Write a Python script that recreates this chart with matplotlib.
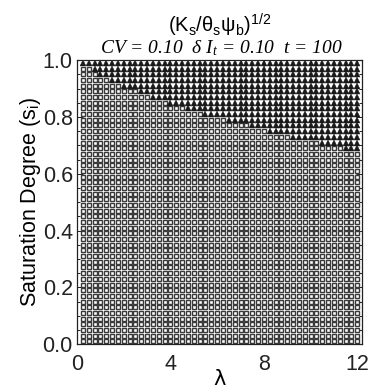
import numpy as np
import matplotlib
matplotlib.use("Agg")
import matplotlib.pyplot as plt
from matplotlib.ticker import MultipleLocator, FormatStrFormatter

# grid of simulated cases: lambda (x) and initial saturation degree (y)
lam = [0.25 * k for k in range(1, 49)]
sat = [0.01 + 0.02 * j for j in range(50)]

# highest saturation that still gives an open square, per lambda column
s_top_square = [
    0.97, 0.97, 0.95, 0.93, 0.93, 0.91, 0.91, 0.89, 0.89, 0.89,
    0.87, 0.87, 0.85, 0.85, 0.85, 0.83, 0.83, 0.83, 0.81, 0.81,
    0.81, 0.79, 0.79, 0.79, 0.79, 0.77, 0.77, 0.77, 0.77, 0.75,
    0.75, 0.75, 0.73, 0.73, 0.73, 0.73, 0.71, 0.71, 0.71, 0.71,
    0.71, 0.69, 0.69, 0.69, 0.69, 0.67, 0.67, 0.67,
]

title_top = r"$\mathregular{(K_s/\theta_s\psi_b)^{1/2}}$"
title_sub = r"CV = 0.10  δ I$\mathregular{_t}$ = 0.10  t = 100"

plt.rcParams["font.family"] = ["Liberation Sans", "DejaVu Sans"]

sq_x, sq_y, tr_x, tr_y = [], [], [], []
for x, thr in zip(lam, s_top_square):
    for y in sat:
        if y <= thr + 1e-9:
            sq_x.append(x)
            sq_y.append(y)
        else:
            tr_x.append(x)
            tr_y.append(y)

fig = plt.figure(figsize=(3.72, 3.88), dpi=100)
ax = fig.add_axes([0.207, 0.113, 0.766, 0.732])

ax.plot(sq_x, sq_y, "s", ms=3.4, mfc="white", mec="#3a3a3a", mew=1.0, ls="none")
ax.plot(tr_x, tr_y, "^", ms=4.2, mfc="#1a1a1a", mec="#1a1a1a", mew=0.3, ls="none")

ax.set_xlim(0, 12.2)
ax.set_ylim(0, 1.0)
ax.xaxis.set_major_locator(MultipleLocator(4))
ax.xaxis.set_minor_locator(MultipleLocator(1))
ax.yaxis.set_major_locator(MultipleLocator(0.2))
ax.yaxis.set_minor_locator(MultipleLocator(0.05))
ax.yaxis.set_major_formatter(FormatStrFormatter("%.1f"))
ax.xaxis.set_major_formatter(FormatStrFormatter("%d"))
ax.tick_params(which="both", direction="in", top=True, right=True,
               width=0.7, colors="#222222")
ax.tick_params(which="major", length=4, labelsize=15.5)
ax.tick_params(axis="x", which="major", pad=7)
ax.tick_params(axis="y", which="major", pad=3)
ax.tick_params(which="minor", length=2.5)
for sp in ax.spines.values():
    sp.set_linewidth(0.9)
    sp.set_color("#222222")

ax.set_xlabel("λ", fontsize=15, labelpad=-4, family=["DejaVu Sans"])
ax.set_ylabel(r"Saturation Degree (s$\mathregular{_i}$)", fontsize=15.5, labelpad=0)

fig.text(0.59, 0.917, title_top, ha="center", va="baseline", fontsize=14.5)
fig.text(0.595, 0.863, title_sub, ha="center", va="baseline", fontsize=14,
         family=["Liberation Serif", "DejaVu Serif"], style="italic")

fig.savefig("out.png", dpi=100)
